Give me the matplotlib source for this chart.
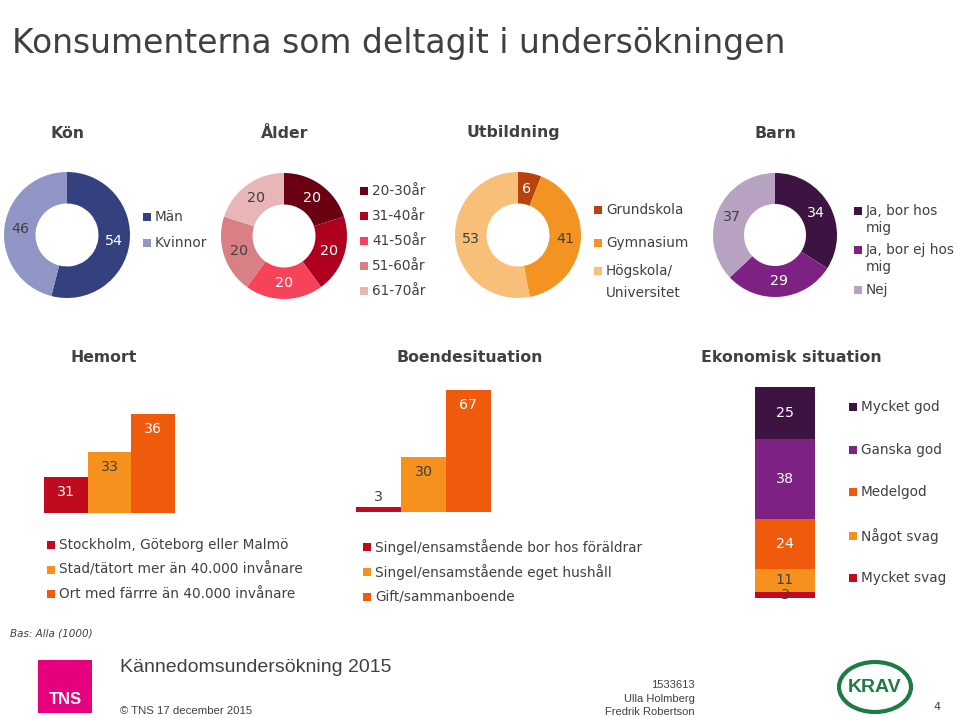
import matplotlib
matplotlib.use("Agg")
import matplotlib.pyplot as plt
from matplotlib.patches import Rectangle, Ellipse
import numpy as np

# ---------------- DATA ----------------
kon_labels = ["Män", "Kvinnor"]
kon_values = [54, 46]

alder_labels = ["20-30år", "31-40år", "41-50år", "51-60år", "61-70år"]
alder_values = [20, 20, 20, 20, 20]

utb_labels = ["Grundskola", "Gymnasium", "Högskola/\nUniversitet"]
utb_values = [6, 41, 53]

barn_labels = ["Ja, bor hos\nmig", "Ja, bor ej hos\nmig", "Nej"]
barn_values = [34, 29, 37]

hemort_labels = ["Stockholm, Göteborg eller Malmö",
                 "Stad/tätort mer än 40.000 invånare",
                 "Ort med färrre än 40.000 invånare"]
hemort_values = [31, 33, 36]

boende_labels = ["Singel/ensamstående bor hos föräldrar",
                 "Singel/ensamstående eget hushåll",
                 "Gift/sammanboende"]
boende_values = [3, 30, 67]

ekon_labels = ["Mycket svag", "Något svag", "Medelgod", "Ganska god", "Mycket god"]
ekon_values = [3, 11, 24, 38, 25]
# --------------------------------------

RED = "#c00a1e"
ORANGE = "#f6911e"
ORANGE2 = "#f05a0c"
DPURPLE = "#3d1441"
PURPLE = "#7d2283"
LPURPLE = "#b8a2c2"
DARK = "#404040"
NARROW = ["Liberation Sans Narrow", "Liberation Sans", "DejaVu Sans"]
LEG = 9.8

W, H = 959, 718
fig = plt.figure(figsize=(W / 100, H / 100), dpi=100)
fig.patch.set_facecolor("white")


def ax_px(x0, y0, w, h):
    return fig.add_axes([x0 / W, 1 - (y0 + h) / H, w / W, h / H])


def txt(x, y, s, **kw):
    kw.setdefault("color", DARK)
    kw.setdefault("va", "center")
    return fig.text(x / W, 1 - y / H, s, **kw)


def legend_item(x, y, color, label, size=LEG):
    fig.add_artist(Rectangle(((x - 4) / W, 1 - (y + 4) / H), 8 / W, 8 / H,
                             transform=fig.transFigure, color=color, lw=0))
    txt(x + 8, y, label, fontsize=size, ha="left")


def donut(cx, cy, r, values, colors, tcolors):
    ax = ax_px(cx - r, cy - r, 2 * r, 2 * r)
    ax.pie(values, colors=colors, startangle=90, counterclock=False,
           wedgeprops=dict(width=0.5, linewidth=0))
    ax.set_xlim(-1, 1)
    ax.set_ylim(-1, 1)
    ax.set_aspect("equal")
    cum = np.cumsum([0] + list(values))
    tot = cum[-1]
    for i, v in enumerate(values):
        mid = np.deg2rad(90 - (cum[i] + v / 2) / tot * 360)
        ax.text(0.75 * np.cos(mid), 0.75 * np.sin(mid), str(v), ha="center",
                va="center", fontsize=10.3, color=tcolors[i])
    return ax


# Title
txt(12, 44, "Konsumenterna som deltagit i undersökningen", fontsize=23.8, ha="left")

# Section headers
for x, y, s in [(68, 133, "Kön"), (285, 133, "Ålder"), (513, 132, "Utbildning"),
                (775, 133, "Barn"), (104, 358, "Hemort"),
                (470, 358, "Boendesituation"), (791, 358, "Ekonomisk situation")]:
    txt(x, y, s, fontsize=11.3, fontweight="bold", ha="center")

# Kön
kon_colors = ["#35407e", "#8f95c5"]
donut(67, 235, 63, kon_values, kon_colors, ["white", DARK])
for i, lab in enumerate(kon_labels):
    legend_item(147, 217 + 26 * i, kon_colors[i], lab)

# Ålder
alder_colors = ["#6a0012", "#b00020", "#f7435a", "#d97f86", "#e9b6b8"]
donut(284, 236, 63, alder_values, alder_colors,
      ["white", "white", "white", DARK, DARK])
for i, lab in enumerate(alder_labels):
    legend_item(364, 191 + 25 * i, alder_colors[i], lab)

# Utbildning
utb_colors = ["#b8420c", "#f39321", "#f8bf78"]
donut(518, 235, 63, utb_values, utb_colors, ["white", DARK, DARK])
for y, c, lab in zip([210, 243, 271], utb_colors, utb_labels):
    parts = lab.split("\n")
    legend_item(598, y, c, parts[0])
    if len(parts) > 1:
        txt(606, y + 22, parts[1], fontsize=LEG, ha="left")

# Barn
barn_colors = [DPURPLE, PURPLE, LPURPLE]
donut(775, 235, 62, barn_values, barn_colors, ["white", "white", DARK])
for y, c, lab in zip([211, 250, 290], barn_colors, barn_labels):
    parts = lab.split("\n")
    legend_item(858, y, c, parts[0])
    if len(parts) > 1:
        txt(866, y + 17, parts[1], fontsize=LEG, ha="left")

# Hemort bars
bar_colors = [RED, ORANGE, ORANGE2]
ax = ax_px(44, 390, 131, 123)
ax.bar(range(3), hemort_values, width=1.0, color=bar_colors, linewidth=0)
ax.set_xlim(-0.5, 2.5)
ax.set_ylim(28.1, 28.1 + 123 / 12.5)
for i, v in enumerate(hemort_values):
    ax.annotate(str(v), (i, v), xytext=(0, -15), textcoords="offset pixels",
                ha="center", va="center", fontsize=10.3,
                color=DARK if i == 1 else "white")
ax.axis("off")
for i, lab in enumerate(hemort_labels):
    legend_item(51, 545 + 24.5 * i, bar_colors[i], lab)

# Boendesituation bars
ax = ax_px(356, 385, 135, 127)
ax.bar(range(3), boende_values, width=1.0, color=bar_colors, linewidth=0)
ax.set_xlim(-0.5, 2.5)
ax.set_ylim(0, 127 / 1.82)
for i, v in enumerate(boende_values):
    if v < 10:
        ax.annotate(str(v), (i, v), xytext=(0, 10), textcoords="offset pixels",
                    ha="center", va="center", fontsize=10.3, color=DARK)
    else:
        ax.annotate(str(v), (i, v), xytext=(0, -15), textcoords="offset pixels",
                    ha="center", va="center", fontsize=10.3,
                    color=DARK if i == 1 else "white")
ax.axis("off")
for i, lab in enumerate(boende_labels):
    legend_item(367, 547 + 25 * i, bar_colors[i], lab)

# Ekonomisk situation stacked bar
ekon_colors = [RED, ORANGE, ORANGE2, PURPLE, DPURPLE]
ekon_tcolors = [DARK, DARK, "white", "white", "white"]
ax = ax_px(755, 387, 60, 211)
bottom = 0
for v, c, tc in zip(ekon_values, ekon_colors, ekon_tcolors):
    ax.bar(0, v, bottom=bottom, width=1.0, color=c, linewidth=0)
    ax.text(0, bottom + v / 2, str(v), ha="center", va="center", fontsize=10.3, color=tc)
    bottom += v
ax.set_xlim(-0.5, 0.5)
ax.set_ylim(0, bottom)
ax.axis("off")
for y, c, lab in zip([578, 536, 492, 450, 407], ekon_colors, ekon_labels):
    legend_item(853, y, c, lab)

# Footer
txt(10, 634, "Bas: Alla (1000)", fontsize=7.5, style="italic", ha="left")
fig.add_artist(Rectangle((38 / W, 1 - 713 / H), 54 / W, 53 / H,
                         transform=fig.transFigure, color="#e5007e", lw=0))
txt(65, 700, "TNS", fontsize=12, fontweight="bold", color="white", ha="center",
    family=NARROW)
txt(120, 667, "Kännedomsundersökning 2015", fontsize=14, ha="left", family=NARROW)
txt(120, 711, "© TNS 17 december 2015", fontsize=8.2, ha="left", family=NARROW)
for y, s in [(685, "1533613"), (699, "Ulla Holmberg"), (712, "Fredrik Robertson")]:
    txt(695, y, s, fontsize=8, ha="right", family=NARROW)
fig.add_artist(Ellipse((875 / W, 1 - 687 / H), 72 / W, 50 / H, transform=fig.transFigure,
                       fill=False, edgecolor="#1e7b45", lw=3))
txt(875, 688, "KRAV", fontsize=14, fontweight="bold", color="#1e7b45", ha="center",
    family=NARROW, bbox=dict(facecolor="white", edgecolor="none", pad=0.5))
txt(937, 707, "4", fontsize=8, ha="center")

fig.savefig("out.png", dpi=100)
